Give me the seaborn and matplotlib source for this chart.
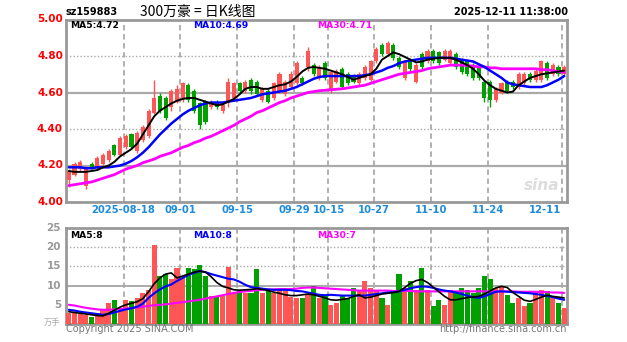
import numpy as np
import pandas as pd
import matplotlib
matplotlib.use("Agg")
import matplotlib.pyplot as plt
import seaborn as sns
from matplotlib.transforms import blended_transform_factory as btf

# ---------------- data ----------------
open_ = [4.12,4.15,4.18,4.09,4.21,4.19,4.21,4.23,4.31,4.26,
         4.30,4.37,4.28,4.34,4.36,4.49,4.58,4.57,4.52,4.55,
         4.57,4.64,4.61,4.54,4.55,4.52,4.55,4.50,4.54,4.57,
         4.65,4.61,4.67,4.66,4.56,4.61,4.57,4.61,4.59,4.63,
         4.65,4.68,4.74,4.75,4.68,4.76,4.61,4.66,4.73,4.70,
         4.69,4.65,4.68,4.67,4.77,4.86,4.81,4.86,4.79,4.68,
         4.78,4.66,4.81,4.77,4.83,4.82,4.78,4.76,4.81,4.78,
         4.77,4.75,4.74,4.66,4.66,4.56,4.60,4.66,4.66,4.63,
         4.65,4.70,4.67,4.67,4.76,4.70,4.74,4.70]
close = [4.17,4.21,4.22,4.19,4.19,4.24,4.26,4.28,4.26,4.35,
         4.36,4.30,4.38,4.41,4.50,4.57,4.50,4.46,4.61,4.62,
         4.65,4.56,4.50,4.42,4.44,4.55,4.52,4.53,4.66,4.65,
         4.61,4.66,4.61,4.59,4.62,4.55,4.65,4.70,4.66,4.70,
         4.76,4.65,4.83,4.70,4.74,4.68,4.71,4.72,4.63,4.65,
         4.66,4.70,4.74,4.77,4.84,4.81,4.87,4.79,4.74,4.77,
         4.73,4.75,4.74,4.83,4.77,4.76,4.83,4.83,4.74,4.71,
         4.70,4.68,4.68,4.57,4.56,4.62,4.65,4.61,4.63,4.70,
         4.70,4.67,4.72,4.77,4.68,4.75,4.70,4.74]
high = [4.18,4.22,4.23,4.20,4.22,4.25,4.27,4.29,4.32,4.36,
        4.37,4.38,4.39,4.42,4.51,4.67,4.60,4.58,4.62,4.64,
        4.66,4.65,4.62,4.55,4.56,4.56,4.56,4.54,4.68,4.66,
        4.66,4.67,4.68,4.67,4.63,4.62,4.66,4.71,4.67,4.72,
        4.77,4.69,4.85,4.76,4.75,4.77,4.72,4.73,4.74,4.71,
        4.70,4.71,4.75,4.78,4.85,4.87,4.88,4.87,4.80,4.78,
        4.79,4.76,4.82,4.84,4.84,4.83,4.84,4.84,4.82,4.79,
        4.78,4.76,4.75,4.67,4.67,4.63,4.66,4.67,4.67,4.71,
        4.71,4.71,4.73,4.78,4.77,4.76,4.75,4.75]
low = [4.08,4.14,4.17,4.07,4.18,4.18,4.20,4.22,4.25,4.25,
       4.29,4.29,4.27,4.33,4.35,4.48,4.49,4.45,4.50,4.54,
       4.55,4.55,4.49,4.40,4.43,4.51,4.51,4.49,4.52,4.56,
       4.60,4.60,4.59,4.58,4.55,4.54,4.56,4.60,4.58,4.62,
       4.64,4.64,4.72,4.69,4.67,4.67,4.60,4.65,4.62,4.64,
       4.65,4.64,4.67,4.66,4.76,4.80,4.80,4.78,4.73,4.67,
       4.72,4.65,4.73,4.76,4.76,4.75,4.77,4.75,4.73,4.70,
       4.69,4.67,4.67,4.55,4.52,4.55,4.59,4.60,4.62,4.62,
       4.64,4.66,4.66,4.66,4.67,4.69,4.69,4.69]

ma5 = [4.17,4.165,4.165,4.165,4.17,4.175,4.19,4.20,4.22,4.25,
       4.27,4.29,4.32,4.37,4.42,4.47,4.50,4.52,4.54,4.555,
       4.565,4.57,4.57,4.56,4.55,4.54,4.53,4.535,4.55,4.565,
       4.59,4.62,4.63,4.63,4.62,4.62,4.63,4.64,4.645,4.66,
       4.685,4.715,4.735,4.74,4.735,4.73,4.72,4.71,4.70,4.685,
       4.67,4.68,4.69,4.70,4.73,4.78,4.80,4.82,4.81,4.795,
       4.78,4.765,4.77,4.78,4.785,4.79,4.79,4.79,4.78,4.765,
       4.75,4.73,4.70,4.665,4.64,4.62,4.61,4.60,4.605,4.64,
       4.66,4.68,4.69,4.70,4.705,4.71,4.715,4.72]
ma10 = [4.19,4.19,4.19,4.185,4.185,4.19,4.19,4.19,4.195,4.20,
        4.21,4.225,4.245,4.27,4.30,4.335,4.37,4.40,4.43,4.455,
        4.48,4.50,4.515,4.53,4.54,4.545,4.545,4.545,4.55,4.555,
        4.56,4.565,4.57,4.58,4.59,4.595,4.60,4.605,4.61,4.62,
        4.63,4.645,4.66,4.675,4.685,4.69,4.69,4.69,4.69,4.69,
        4.69,4.69,4.695,4.70,4.71,4.72,4.735,4.745,4.76,4.77,
        4.775,4.78,4.785,4.79,4.79,4.79,4.79,4.79,4.785,4.78,
        4.775,4.77,4.755,4.74,4.72,4.70,4.68,4.655,4.645,4.64,
        4.635,4.63,4.63,4.63,4.64,4.655,4.67,4.69]
ma30 = [4.09,4.095,4.10,4.105,4.11,4.12,4.13,4.14,4.15,4.165,
        4.18,4.19,4.20,4.215,4.225,4.235,4.25,4.26,4.27,4.285,
        4.30,4.31,4.325,4.335,4.35,4.36,4.375,4.39,4.405,4.42,
        4.44,4.455,4.47,4.49,4.50,4.515,4.53,4.545,4.555,4.57,
        4.58,4.59,4.60,4.605,4.61,4.612,4.615,4.618,4.62,4.625,
        4.63,4.635,4.64,4.65,4.66,4.67,4.68,4.69,4.70,4.705,
        4.71,4.715,4.72,4.73,4.735,4.74,4.745,4.75,4.75,4.75,
        4.748,4.745,4.74,4.74,4.735,4.735,4.73,4.73,4.73,4.73,
        4.73,4.73,4.73,4.725,4.725,4.72,4.715,4.71]

volume = [2.8,2.8,2.6,2.4,1.9,2.8,3.7,5.4,6.3,4.1,
          6.3,5.9,6.8,8.1,8.9,20.5,12.5,12.9,11.6,14.6,
          12.0,14.6,14.4,15.3,12.5,7.2,7.0,7.4,14.9,8.1,
          8.5,8.1,8.1,14.2,8.1,8.5,8.1,8.9,8.5,7.0,
          6.8,6.8,7.6,9.8,6.8,7.2,5.0,5.4,7.6,6.8,
          9.4,8.5,11.1,9.4,8.9,6.8,5.0,8.9,12.9,9.4,
          11.1,8.9,14.6,8.9,4.6,6.3,5.0,8.9,8.1,9.4,
          8.9,8.1,9.4,12.5,11.6,9.4,9.8,7.6,5.4,6.8,
          4.6,5.4,8.5,8.9,8.5,6.8,5.4,4.1]
vma5 = [3.2,3.0,2.8,2.6,2.4,2.2,2.1,2.8,3.6,4.4,
        5.0,5.4,5.8,6.6,8.4,10.5,12.0,13.0,13.3,12.0,
        12.5,13.0,13.5,13.8,13.5,12.3,10.8,9.8,9.4,8.9,
        8.8,8.9,9.0,9.2,9.0,8.7,8.3,8.0,7.6,7.4,
        7.4,7.6,7.8,7.6,7.2,6.8,6.3,6.2,6.4,6.6,
        7.2,7.6,6.8,7.0,7.4,7.8,8.0,8.2,8.5,9.5,
        10.6,11.3,11.6,10.8,9.6,8.4,7.2,6.3,6.3,6.6,
        6.9,7.0,7.2,7.8,8.6,9.4,9.8,9.5,8.2,7.2,
        6.2,5.9,6.4,7.0,7.5,7.2,7.0,6.8]
vma10 = [3.7,3.5,3.2,3.0,2.8,2.6,2.4,2.6,3.0,3.4,
         3.8,4.1,4.5,5.3,6.8,8.0,9.0,9.8,10.3,11.2,
         12.0,12.8,13.3,13.8,13.5,13.0,12.6,12.2,11.8,11.6,
         11.0,10.2,9.6,9.4,9.2,9.0,8.9,8.9,8.9,8.8,
         8.6,8.5,8.2,7.9,7.6,7.5,7.6,7.5,7.4,7.4,
         7.4,7.4,7.4,7.6,7.8,8.0,8.2,8.3,8.5,8.9,
         9.3,9.6,9.8,9.7,9.4,9.0,8.7,8.5,8.2,7.8,
         7.4,7.0,6.8,7.2,7.8,8.4,8.5,8.4,8.3,8.2,
         8.1,8.0,7.8,7.6,7.3,7.0,6.6,6.3]
vma30 = [5.0,4.8,4.5,4.2,4.0,3.8,3.7,3.7,3.8,3.9,
         4.0,4.1,4.3,4.5,4.7,4.9,5.0,5.1,5.3,5.5,
         5.7,5.9,6.1,6.3,6.6,6.9,7.2,7.5,7.8,8.1,
         8.3,8.5,8.6,8.8,8.9,9.0,9.0,9.1,9.1,9.1,
         9.2,9.4,9.5,9.5,9.4,9.3,9.2,9.1,9.0,8.9,
         8.8,8.7,8.7,8.7,8.7,8.7,8.7,8.6,8.6,8.6,
         8.6,8.5,8.5,8.5,8.5,8.5,8.5,8.5,8.5,8.5,
         8.5,8.5,8.5,8.5,8.5,8.5,8.5,8.5,8.5,8.4,
         8.4,8.4,8.4,8.3,8.3,8.2,8.2,8.1]

tick_idx = [10, 20, 30, 40, 46, 54, 64, 74, 87]
tick_labels = ["2025-08-18", "09-01", "09-15", "09-29", "10-15",
               "10-27", "11-10", "11-24", "12-11"]
price_ticks = [4.00, 4.20, 4.40, 4.60, 4.80, 5.00]
vol_ticks = [5, 10, 15, 20, 25]

code = "sz159883"
title = "300万豪 = 日K线图"
stamp = "2025-12-11 11:38:00"
price_ma_text = ["MA5:4.72", "MA10:4.69", "MA30:4.71"]
vol_ma_text = ["MA5:8", "MA10:8", "MA30:7"]

# ---------------- style ----------------
sns.set_style("white")
plt.rcParams['font.family'] = ['DejaVu Sans', 'Noto Sans CJK SC']

RED = "#FF5555"
GREEN = "#00A000"
GRID = "#AAAAAA"
FRAME = "#999999"
LBLUE = "#1E8CDC"

n = len(close)
idx = np.arange(n)
df = pd.DataFrame({"i": idx, "open": open_, "close": close, "high": high,
                   "low": low, "ma5": ma5, "ma10": ma10, "ma30": ma30,
                   "vol": volume, "vma5": vma5, "vma10": vma10, "vma30": vma30})
df["dir"] = np.where(df["close"] >= df["open"], "up", "down")
cols = df["dir"].map({"up": RED, "down": GREEN}).tolist()

fig = plt.figure(figsize=(6.27, 3.42), dpi=100)
W, H = 627, 342
def ax_rect(x0, y0, x1, y1):
    return [x0 / W, 1 - y1 / H, (x1 - x0) / W, (y1 - y0) / H]

axp = fig.add_axes(ax_rect(66, 19.5, 567, 202))
axv = fig.add_axes(ax_rect(66, 228, 567, 324))

for ax in (axp, axv):
    ax.set_xlim(-0.5, n - 0.5)
    ax.set_xticks([]); ax.set_yticks([])
    for s in ax.spines.values():
        s.set_color(FRAME); s.set_linewidth(2)
    for t in tick_idx:
        ax.axvline(t - 0.4, color=GRID, lw=1.3, ls=(0, (3, 2)), zorder=0)

# ---------------- price panel ----------------
axp.set_ylim(4.0, 5.0)
for k, p in enumerate([4.2, 4.4, 4.6, 4.8]):
    if k % 2 == 0:
        axp.axhline(p, color=GRID, lw=1.6, zorder=0)
    else:
        axp.axhline(p, color=GRID, lw=1.0, ls=(0, (1, 1.5)), zorder=0)

axp.vlines(df["i"], df["low"], df["high"], colors=cols, lw=1, zorder=2)
body = (df["close"] - df["open"]).abs().clip(lower=0.004)
axp.bar(df["i"], body, bottom=df[["open", "close"]].min(axis=1),
        width=0.72, color=cols, zorder=3, linewidth=0)

sns.lineplot(data=df, x="i", y="ma30", ax=axp, color="#FF00FF", lw=2.0, zorder=4)
sns.lineplot(data=df, x="i", y="ma10", ax=axp, color="#0000FF", lw=1.8, zorder=5)
sns.lineplot(data=df, x="i", y="ma5", ax=axp, color="black", lw=1.4, zorder=6)
axp.set_xlabel(""); axp.set_ylabel("")
axp.set_xlim(-0.5, n - 0.5); axp.set_ylim(4.0, 5.0)

tp = btf(axp.transAxes, axp.transData)
for p in price_ticks:
    axp.text(-0.006, p, f"{p:.2f}", transform=tp, ha="right", va="center",
             color="red", fontsize=7.5, fontweight="bold")

td = btf(axp.transData, axp.transAxes)
for t, lab in zip(tick_idx, tick_labels):
    if t == tick_idx[-1]:
        axp.text(t - 0.6, -0.045, lab, transform=td, ha="right", va="center",
                 color=LBLUE, fontsize=7.2, fontweight="bold")
    else:
        axp.text(t - 0.4, -0.045, lab, transform=td, ha="center", va="center",
                 color=LBLUE, fontsize=7.2, fontweight="bold")

for x, txt, c in zip([70, 193, 317], price_ma_text, ["black", "blue", "#FF00FF"]):
    fig.text(x / W, 1 - 26 / H, txt, color=c, fontsize=6.6, fontweight="bold",
             ha="left", va="center")

axp.text(0.985, 0.09, "sina", transform=axp.transAxes, ha="right", va="center",
         color="#DDDDDD", fontsize=11, fontweight="bold", style="italic", zorder=1)

# ---------------- volume panel ----------------
sns.barplot(data=df, x="i", y="vol", hue="dir", ax=axv,
            palette={"up": RED, "down": GREEN}, dodge=False, width=0.9,
            legend=False, saturation=1, linewidth=0, zorder=3)
axv.set_xlabel(""); axv.set_ylabel("")
axv.set_xlim(-0.5, n - 0.5); axv.set_ylim(0, 25)
axv.set_xticks([]); axv.set_yticks([])
for v in [10, 15, 20]:
    if v == 10:
        axv.axhline(v, color=GRID, lw=1.4, zorder=0)
    else:
        axv.axhline(v, color=GRID, lw=1.0, ls=(0, (1, 1.5)), zorder=0)

sns.lineplot(x=idx, y=vma30, ax=axv, color="#FF00FF", lw=1.5, zorder=4)
sns.lineplot(x=idx, y=vma10, ax=axv, color="#0000FF", lw=1.5, zorder=5)
sns.lineplot(x=idx, y=vma5, ax=axv, color="black", lw=1.2, zorder=6)
axv.set_xlim(-0.5, n - 0.5); axv.set_ylim(0, 25)

tv = btf(axv.transAxes, axv.transData)
for v in vol_ticks:
    axv.text(-0.01, v, f"{v}", transform=tv, ha="right", va="center",
             color="#999999", fontsize=7.5, fontweight="bold")
fig.text(60 / W, 1 - 322 / H, "万手", color="#AAAAAA", fontsize=6,
         ha="right", va="center", family=['Noto Sans CJK SC', 'DejaVu Sans'])

for x, txt, c in zip([70, 193, 317], vol_ma_text, ["black", "blue", "#FF00FF"]):
    fig.text(x / W, 1 - 235 / H, txt, color=c, fontsize=6.6, fontweight="bold",
             ha="left", va="center")

# ---------------- header / footer ----------------
fig.text(66 / W, 1 - 12 / H, code, color="black", fontsize=7, fontweight="bold",
         ha="left", va="center")
fig.text(198 / W, 1 - 12 / H, title, color="black", fontsize=10,
         ha="center", va="center", family=['Noto Sans CJK SC', 'DejaVu Sans'])
fig.text(568 / W, 1 - 12 / H, stamp, color="black", fontsize=7, fontweight="bold",
         ha="right", va="center")
fig.text(66 / W, 1 - 329 / H, "Copyright 2025 SINA.COM", color="#777777",
         fontsize=7, ha="left", va="center")
fig.text(567 / W, 1 - 329 / H, "http://finance.sina.com.cn", color="#777777",
         fontsize=7, ha="right", va="center")

fig.savefig("out.png", dpi=100, facecolor="white")
